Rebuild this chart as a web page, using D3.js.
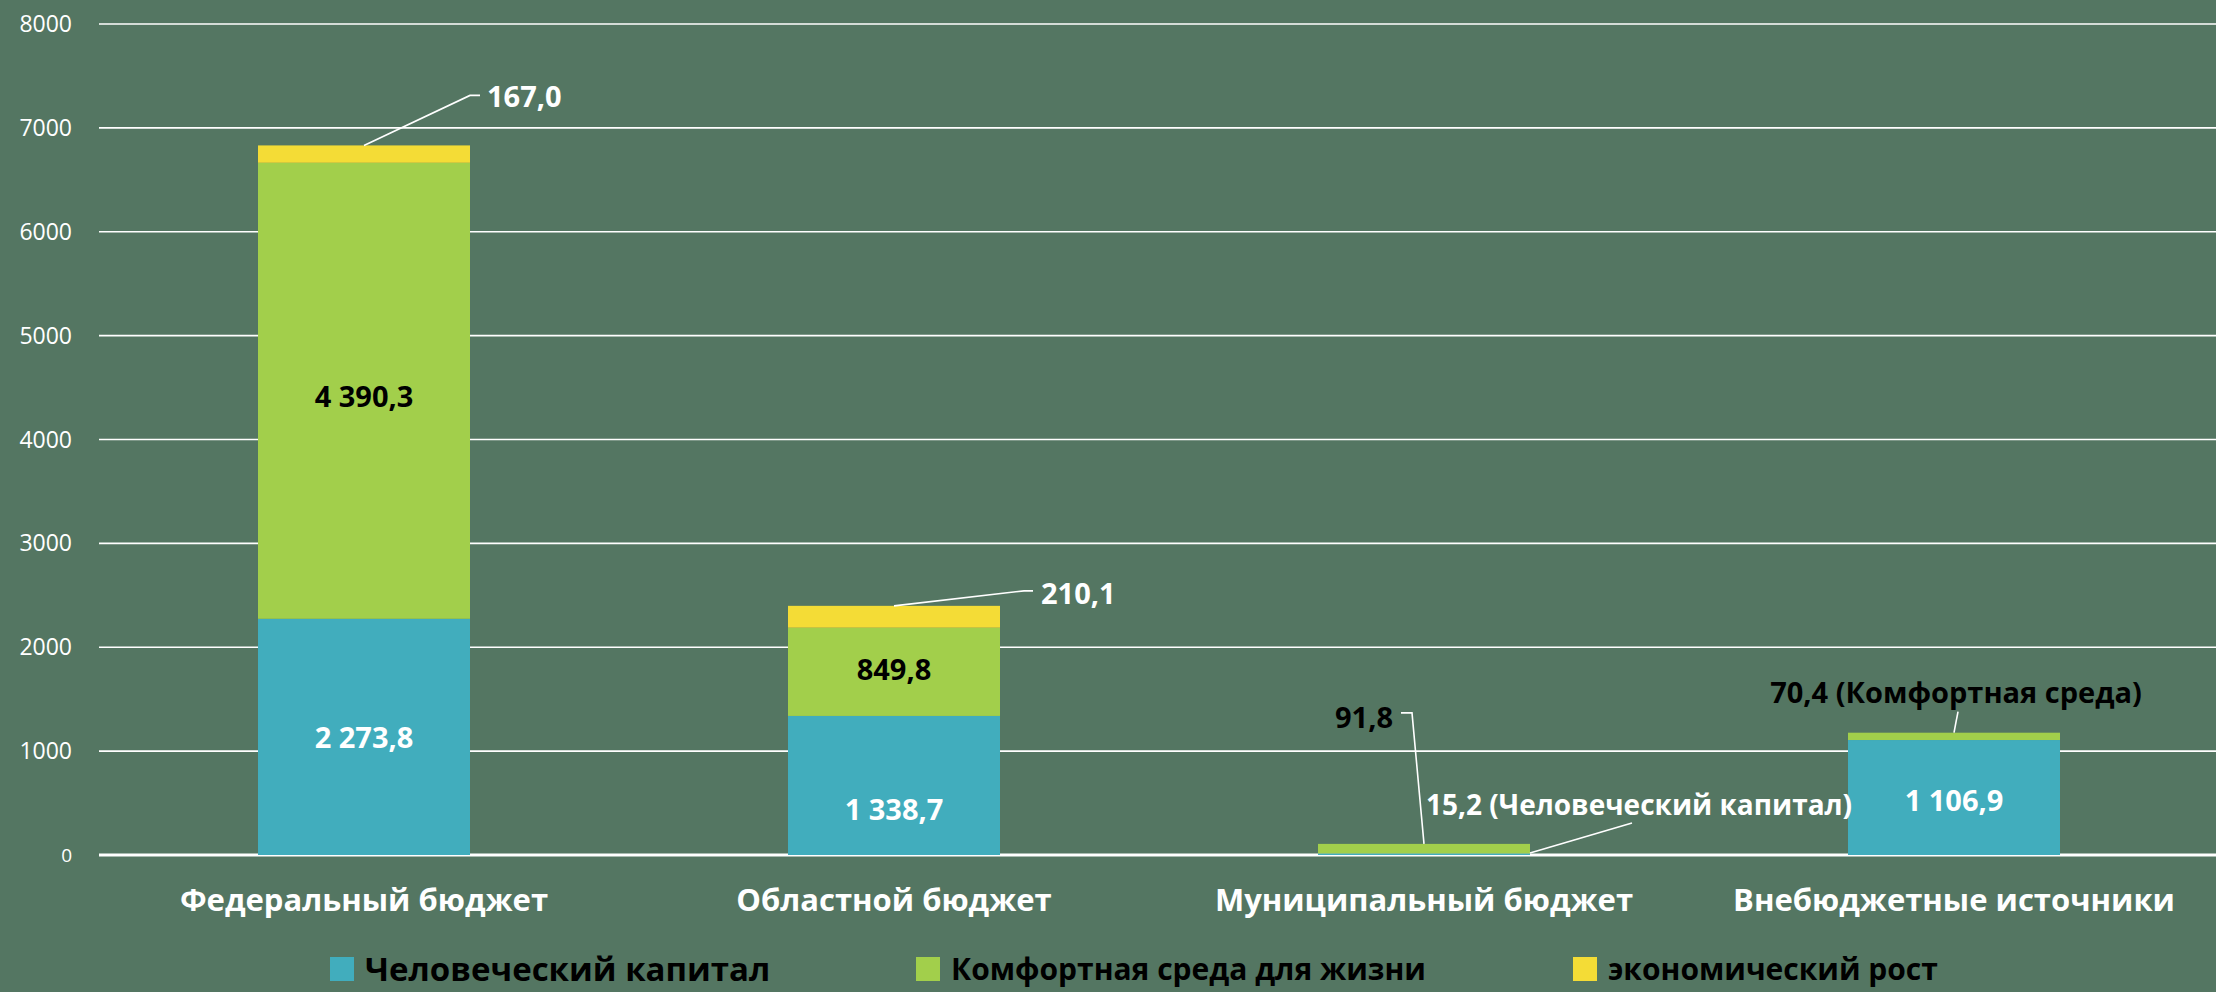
<!DOCTYPE html>
<html>
<head>
<meta charset="utf-8">
<script src="https://cdn.jsdelivr.net/npm/d3@7/dist/d3.min.js"></script>
<style>
  html, body { margin: 0; padding: 0; background: #547662; }
  svg { display: block; font-family: "Open Sans", "Noto Sans", sans-serif; }
</style>
</head>
<body>
<svg id="chart" width="2216" height="992"></svg>
<script>
// budget sources (categories) and the three stacked series
const categories = ['Федеральный бюджет', 'Областной бюджет', 'Муниципальный бюджет', 'Внебюджетные источники'];
const seriesNames = ['Человеческий капитал', 'Комфортная среда для жизни', 'экономический рост'];
const human = [2273.8, 1338.7, 15.2, 1106.9];
const comfort = [4390.3, 849.8, 91.8, 70.4];
const econ = [167.0, 210.1, 0, 0];
const yTicks = [0, 1000, 2000, 3000, 4000, 5000, 6000, 7000, 8000];

const W = 2216, H = 992;
const colors = ['#41adbd', '#a2cf4b', '#f4dc36'];
const fmt = d3.formatLocale({ decimal: ',', thousands: ' ', grouping: [3], currency: ['', ''] }).format(',.1f');

const svg = d3.select('#chart');

const rows = categories.map((c, i) => ({ cat: c, human: human[i], comfort: comfort[i], econ: econ[i] }));
const keys = ['human', 'comfort', 'econ'];
const stack = d3.stack().keys(keys)(rows);

const x = d3.scaleBand().domain(categories).range([99, 2219]).paddingInner(0.6).paddingOuter(0.3);
const y = d3.scaleLinear().domain([0, 8000]).range([855, 24]);

// grid + y tick labels
const grid = svg.append('g');
grid.selectAll('line').data(yTicks).join('line')
  .attr('x1', 99).attr('x2', W)
  .attr('y1', d => y(d)).attr('y2', d => y(d))
  .attr('stroke', '#fff').attr('stroke-width', d => d === 0 ? 3 : 1.6);
grid.selectAll('text').data(yTicks).join('text')
  .attr('x', 72).attr('y', d => y(d)).attr('dy', '0.35em')
  .attr('text-anchor', 'end').attr('fill', '#fff')
  .style('font-size', d => d === 0 ? '19px' : '23px')
  .text(d => d);

// bars
svg.append('g').selectAll('g').data(stack).join('g')
  .attr('fill', (d, i) => colors[i])
  .selectAll('rect').data(d => d).join('rect')
  .attr('x', d => x(d.data.cat))
  .attr('width', x.bandwidth())
  .attr('y', d => y(d[1]))
  .attr('height', d => y(d[0]) - y(d[1]));

// category labels
svg.append('g').selectAll('text').data(categories).join('text')
  .attr('x', d => x(d) + x.bandwidth() / 2)
  .attr('y', 900).attr('dy', '0.35em')
  .attr('text-anchor', 'middle').attr('fill', '#fff')
  .style('font-size', '31px').style('font-weight', 700)
  .text(d => d);

// labels inside segments
const cx = i => x(categories[i]) + x.bandwidth() / 2;
const mid = (s, i) => y((stack[s][i][0] + stack[s][i][1]) / 2);
const inner = [
  { s: 0, i: 0, dy: 1 },
  { s: 1, i: 0, dy: 6 },
  { s: 0, i: 1, dy: 24 },
  { s: 1, i: 1, dy: -2 },
  { s: 0, i: 3, dy: 3 }
];
svg.append('g').selectAll('text').data(inner).join('text')
  .attr('x', d => cx(d.i))
  .attr('y', d => mid(d.s, d.i) + d.dy).attr('dy', '0.35em')
  .attr('text-anchor', 'middle')
  .attr('fill', d => d.s === 0 ? '#fff' : '#000')
  .style('font-size', '29px').style('font-weight', 700)
  .text(d => fmt(stack[d.s][d.i].data[keys[d.s]]));

// callout labels with leader lines
const stackTop = i => y(stack[2][i][1]);
const callouts = [
  { text: fmt(econ[0]), fill: '#fff', anchor: 'start',
    pts: () => [[cx(0), stackTop(0)], [cx(0) + 106, stackTop(0) - 50], [cx(0) + 116, stackTop(0) - 50]],
    at: () => [cx(0) + 123, stackTop(0) - 49] },
  { text: fmt(econ[1]), fill: '#fff', anchor: 'start',
    pts: () => [[cx(1), stackTop(1)], [cx(1) + 130, stackTop(1) - 15], [cx(1) + 139, stackTop(1) - 15]],
    at: () => [cx(1) + 147, stackTop(1) - 12] },
  { text: fmt(comfort[2]), fill: '#000', anchor: 'end',
    pts: () => [[cx(2), stackTop(2)], [cx(2) - 12, stackTop(2) - 131], [cx(2) - 23, stackTop(2) - 131]],
    at: () => [cx(2) - 31, stackTop(2) - 126] },
  { text: fmt(human[2]) + ' (Человеческий капитал)', fill: '#fff', anchor: 'start', size: 28,
    pts: () => [[x(categories[2]) + x.bandwidth(), y(0) - 2], [x(categories[2]) + x.bandwidth() + 102, y(0) - 32]],
    at: () => [cx(2) + 2, y(0) - 50] },
  { text: fmt(comfort[3]) + ' (Комфортная среда)', fill: '#000', anchor: 'middle',
    pts: () => [[cx(3), stackTop(3)], [cx(3) + 4, stackTop(3) - 21]],
    at: () => [cx(3) + 2, stackTop(3) - 40] }
];
const co = svg.append('g');
co.selectAll('polyline').data(callouts).join('polyline')
  .attr('points', d => d.pts().map(p => p.join(',')).join(' '))
  .attr('fill', 'none').attr('stroke', '#fff').attr('stroke-width', 1.6);
co.selectAll('text').data(callouts).join('text')
  .attr('x', d => d.at()[0]).attr('y', d => d.at()[1]).attr('dy', '0.35em')
  .attr('text-anchor', d => d.anchor).attr('fill', d => d.fill)
  .style('font-size', d => (d.size || 29) + 'px').style('font-weight', 700)
  .text(d => d.text);

// legend
const legendX = [330, 916, 1573];
const leg = svg.append('g').selectAll('g').data(seriesNames).join('g')
  .attr('transform', (d, i) => `translate(${legendX[i]},957)`);
leg.append('rect').attr('width', 24).attr('height', 24).attr('fill', (d, i) => colors[i]);
leg.append('text')
  .attr('x', 35).attr('y', 12).attr('dy', '0.35em').attr('fill', '#000')
  .style('font-size', (d, i) => i === 0 ? '33px' : '30px').style('font-weight', 700)
  .text(d => d);
</script>
</body>
</html>
